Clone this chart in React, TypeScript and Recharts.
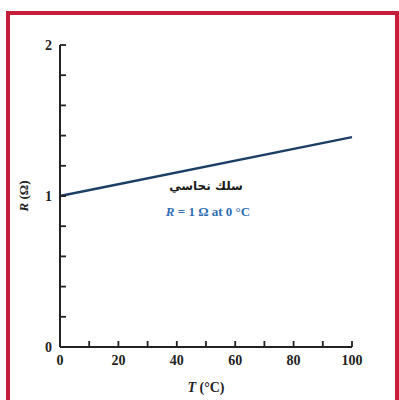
import { LineChart, Line, XAxis, YAxis, ReferenceDot } from 'recharts'

const temps = [0, 100]
const resist = [1, 1.39]
const xTicks = [0, 10, 20, 30, 40, 50, 60, 70, 80, 90, 100]
const xLabels = [0, 20, 40, 60, 80, 100]
const yTicks = [0, 0.2, 0.4, 0.6, 0.8, 1, 1.2, 1.4, 1.6, 1.8, 2]
const yLabels = [0, 1, 2]
const wireLabel = 'سلك نحاسي'
const noteLabel = 'R = 1 Ω at 0 °C'

const data = temps.map((t, i) => ({ t, r: resist[i] }))

const serif = '"Liberation Serif", "DejaVu Serif", serif'
const ink = '#222'

const XTick = (props: any) => {
  const { x, y, payload } = props
  const v = payload.value
  return (
    <g>
      {v !== 0 && <line x1={x} y1={y} x2={x} y2={y - 6} stroke={ink} strokeWidth={1.8} />}
      {xLabels.includes(v) && (
        <text x={x} y={y + 18} textAnchor="middle" fontFamily={serif} fontWeight="bold" fontSize={14} fill={ink}>
          {v}
        </text>
      )}
    </g>
  )
}

const YTick = (props: any) => {
  const { x, y, payload } = props
  const v = payload.value
  return (
    <g>
      {v !== 0 && <line x1={x} y1={y} x2={x + 6} y2={y} stroke={ink} strokeWidth={1.8} />}
      {yLabels.includes(v) && (
        <text x={x - 8} y={y + 5} textAnchor="end" fontFamily={serif} fontWeight="bold" fontSize={14} fill={ink}>
          {v}
        </text>
      )}
    </g>
  )
}

const Note = (props: any) => {
  const { viewBox } = props
  const cx = viewBox.cx ?? viewBox.x
  const cy = viewBox.cy ?? viewBox.y
  return (
    <g>
      <text x={cx} y={cy} textAnchor="middle" fontFamily='"DejaVu Sans", sans-serif' fontWeight="bold" fontSize={12} fill="#1a1a1a" direction="rtl">
        {wireLabel}
      </text>
      <text x={cx + 2} y={cy + 26} textAnchor="middle" fontFamily={serif} fontWeight="bold" fontSize={13} fill="#2f6fb3">
        <tspan fontStyle="italic">R</tspan>
        {noteLabel.slice(1)}
      </text>
    </g>
  )
}

const YTitle = () => (
  <text x={28} y={196} transform="rotate(-90 28 196)" textAnchor="middle" fontFamily={serif} fontWeight="bold" fontSize={13} fill={ink}>
    <tspan fontStyle="italic">R</tspan> (Ω)
  </text>
)

const XTitle = () => (
  <text x={206} y={392} textAnchor="middle" fontFamily={serif} fontWeight="bold" fontSize={14} fill={ink}>
    <tspan fontStyle="italic">T</tspan> (°C)
  </text>
)

export default function App() {
  return (
    <div style={{ position: 'absolute', left: 0, top: 0, width: 399, height: 400, background: '#fff', overflow: 'hidden' }}>
      <div
        style={{
          position: 'absolute',
          left: 6,
          top: 11,
          width: 385,
          height: 385,
          border: '4px solid #c41e3a',
        }}
      />
      <LineChart width={399} height={400} data={data} margin={{ top: 45, right: 47, bottom: 52, left: 0 }}>
        <XAxis
          dataKey="t"
          type="number"
          domain={[0, 100]}
          ticks={xTicks}
          interval={0}
          height={1}
          tickSize={0}
          tickMargin={0}
          tickLine={false}
          axisLine={{ stroke: ink, strokeWidth: 2 }}
          tick={<XTick />}
          label={<XTitle />}
        />
        <YAxis
          type="number"
          domain={[0, 2]}
          ticks={yTicks}
          interval={0}
          width={60}
          tickSize={0}
          tickMargin={0}
          tickLine={false}
          axisLine={{ stroke: ink, strokeWidth: 2 }}
          tick={<YTick />}
          label={<YTitle />}
        />
        <Line type="linear" dataKey="r" stroke="#1d3f66" strokeWidth={2.5} dot={false} isAnimationActive={false} />
        <ReferenceDot x={50} y={1.04} r={0} fill="none" stroke="none" label={<Note />} />
      </LineChart>
    </div>
  )
}
